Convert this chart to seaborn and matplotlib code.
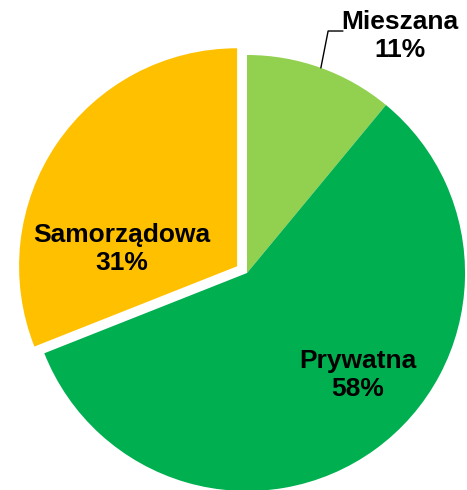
import numpy as np
import seaborn as sns
import matplotlib.pyplot as plt

# dane
labels = ["Mieszana", "Prywatna", "Samorządowa"]
shares = [11, 58, 31]
colors = ["#92D050", "#00B050", "#FFC000"]
explode = [0, 0, 0.055]

sns.set_theme(style="white")
plt.rcParams['font.family'] = ['Liberation Sans', 'DejaVu Sans']

fig = plt.figure(figsize=(4.67, 4.9), dpi=100)
ax = fig.add_axes([0, 0, 1, 1])

wedges, _ = ax.pie(shares, colors=colors, explode=explode, startangle=90,
                   counterclock=False, radius=1,
                   wedgeprops=dict(linewidth=0))

ax.set_xlim(-1.133, 1.009)
ax.set_ylim(-0.995, 1.252)
ax.set_aspect('equal')
ax.axis('off')

# etykiety
txt = [f"{l}\n{s}%" for l, s in zip(labels, shares)]
pos = [(0.702, 1.087), (0.509, -0.468), (-0.573, 0.110)]
for t, (x, y) in zip(txt, pos):
    ax.text(x, y, t, ha='center', va='center', fontsize=19,
            fontweight='bold', color='black', linespacing=1.2)

# linia odniesienia dla "Mieszana"
ang = np.deg2rad(90 - 360 * shares[0] / 100 / 2)
ex, ey = np.cos(ang), np.sin(ang)
ax.plot([ex, 0.372, 0.44], [ey, 1.11, 1.11], color='black', lw=1)

fig.savefig('out.png', dpi=100)
